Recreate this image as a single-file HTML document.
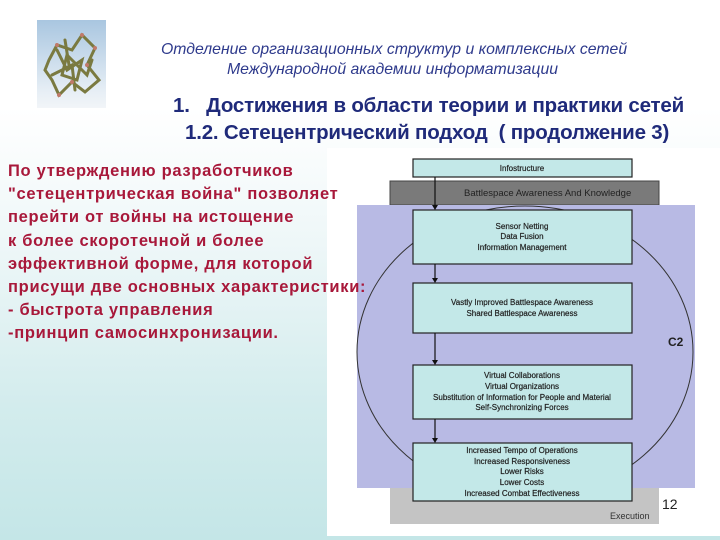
<!DOCTYPE html>
<html><head><meta charset="utf-8"><style>
html,body{margin:0;padding:0}
body{width:720px;height:540px;position:relative;overflow:hidden;
background:linear-gradient(180deg,#ffffff 0%,#ffffff 20%,#eef7f8 45%,#d3eced 75%,#c4e6e7 100%);
font-family:"Liberation Sans","Noto Sans CJK SC",sans-serif}
.hdr{position:absolute;color:#2e3a8c;font-style:italic;font-size:15.8px;white-space:nowrap}
.t{position:absolute;color:#1f2a7a;font-weight:bold;font-size:20.5px;white-space:nowrap;letter-spacing:-0.2px}
.red{position:absolute;z-index:5;left:8px;top:160px;color:#a8183a;font-weight:bold;font-size:16.5px;line-height:23.2px;letter-spacing:0.7px;white-space:nowrap}
</style></head><body>
<div style="position:absolute;left:37px;top:20px;width:69px;height:88px;background:linear-gradient(180deg,#a9c6e0,#e6eef5 80%,#f2f5f8)">
<svg width="69" height="88" viewBox="0 0 69 88">
<g fill="none" stroke="#7a7a40" stroke-width="3" stroke-linecap="round">
<path d="M12 40 L20 25 L35 30 L45 15 L58 28 L50 45 L62 60 L48 72 L35 62 L22 75 L15 60 L8 50 Z"/>
<path d="M20 30 L30 50 L45 40 L40 60 L25 55 L30 35 L50 55 L55 40"/>
<path d="M15 55 L35 45 L38 70 M28 20 L32 45"/>
</g>
<g fill="#c07a6a"><circle cx="20" cy="25" r="2"/><circle cx="45" cy="15" r="2"/><circle cx="50" cy="45" r="2"/><circle cx="35" cy="62" r="2"/><circle cx="22" cy="75" r="2"/><circle cx="58" cy="28" r="2"/></g>
</svg></div>
<div class="hdr" style="left:161px;top:41px">Отделение организационных структур и комплексных сетей</div>
<div class="hdr" style="left:227px;top:61px">Международной академии информатизации</div>
<div class="t" style="left:173px;top:94px">1.&nbsp;&nbsp;&nbsp;Достижения в области теории и практики сетей</div>
<div class="t" style="left:185px;top:121px">1.2. Сетецентрический подход&nbsp; ( продолжение 3)</div>
<div class="red">По утверждению разработчиков<br>"сетецентрическая война" позволяет<br>перейти от войны на истощение<br>к более скоротечной и более<br>эффективной форме, для которой<br>присущи две основных характеристики:<br>- быстрота управления<br>-принцип самосинхронизации.</div>
<svg style="position:absolute;left:0;top:0" width="720" height="540" viewBox="0 0 720 540" font-family="Liberation Sans,sans-serif">
<rect x="327" y="148" width="393" height="388" fill="#ffffff"/>
<rect x="390" y="181" width="269" height="24" fill="#7a7a7a" stroke="#444" stroke-width="1"/>
<text x="464" y="196" font-size="9.5" fill="#222">Battlespace Awareness And Knowledge</text>
<rect x="390" y="488" width="269" height="36" fill="#c4c4c4"/>
<text x="610" y="519" font-size="9" fill="#333">Execution</text>
<rect x="357" y="205" width="338" height="283" fill="#b8bae4"/>
<ellipse cx="525" cy="352" rx="168" ry="146" fill="none" stroke="#333" stroke-width="1"/>
<text x="668" y="346" font-size="12" font-weight="bold" fill="#222">C2</text>
<g fill="#c3e8e8" stroke="#222" stroke-width="1.2">
<rect x="413" y="159" width="219" height="18"/>
<rect x="413" y="210" width="219" height="54"/>
<rect x="413" y="283" width="219" height="50"/>
<rect x="413" y="365" width="219" height="54"/>
<rect x="413" y="443" width="219" height="58"/>
</g>
<g stroke="#111" stroke-width="1.2"><line x1="435" y1="177" x2="435" y2="206"/><line x1="435" y1="264" x2="435" y2="279"/><line x1="435" y1="333" x2="435" y2="361"/><line x1="435" y1="419" x2="435" y2="439"/></g>
<g fill="#111"><path d="M432 205 L438 205 L435 210Z"/><path d="M432 278 L438 278 L435 283Z"/><path d="M432 360 L438 360 L435 365Z"/><path d="M432 438 L438 438 L435 443Z"/></g>
<g font-size="8" fill="#222" stroke="#222" stroke-width="0.2" text-anchor="middle">
<text x="522" y="171">Infostructure</text>
<text x="522" y="229">Sensor Netting</text><text x="522" y="239">Data Fusion</text><text x="522" y="250">Information Management</text>
<text x="522" y="305">Vastly Improved Battlespace Awareness</text><text x="522" y="316">Shared Battlespace Awareness</text>
<text x="522" y="378">Virtual Collaborations</text><text x="522" y="389">Virtual Organizations</text><text x="522" y="400">Substitution of Information for People and Material</text><text x="522" y="410">Self-Synchronizing Forces</text>
<text x="522" y="453">Increased Tempo of Operations</text><text x="522" y="464">Increased Responsiveness</text><text x="522" y="474">Lower Risks</text><text x="522" y="485">Lower Costs</text><text x="522" y="496">Increased Combat Effectiveness</text>
</g>
<text x="662" y="509" font-size="14" fill="#222">12</text>
</svg>
</body></html>
